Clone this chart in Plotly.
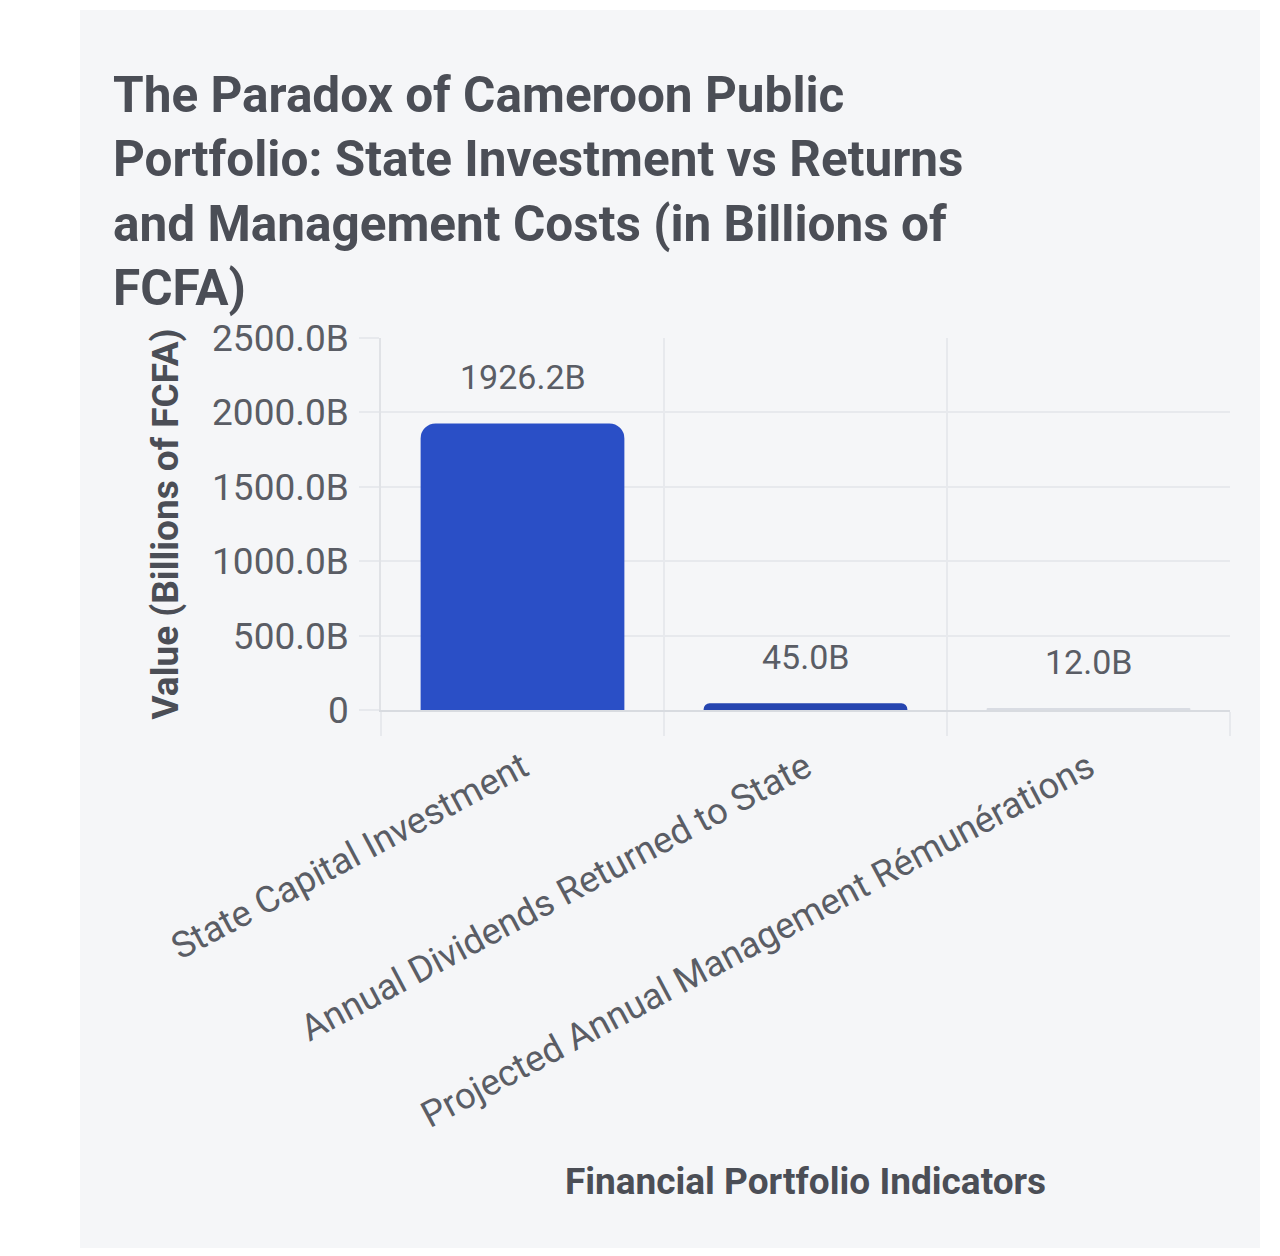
import plotly.graph_objects as go

# Données
categories = ['State Capital Investment',
              'Annual Dividends Returned to State',
              'Projected Annual Management Rémunérations']
values = [1926.2, 45.0, 12.0]
value_labels = ['1926.2B', '45.0B', '12.0B']
y_ticks = [0, 500, 1000, 1500, 2000, 2500]
y_tick_labels = ['0', '500.0B', '1000.0B', '1500.0B', '2000.0B', '2500.0B']

bar_colors = ['#2a4fc6', '#2645b0', '#d9dce3']
panel = '#f5f6f8'
grid = '#e7e9ed'
dark = '#4b4e56'
mid = '#5a5d65'
font = 'Roboto'

fig = go.Figure()
fig.add_trace(go.Bar(
    x=categories, y=values,
    marker=dict(color=bar_colors, line=dict(width=0)),
    hoverinfo='x+y',
))

# étiquettes des valeurs au-dessus des barres
for c, v, t in zip(categories, values, value_labels):
    fig.add_annotation(x=c, y=v, text=t, showarrow=False,
                       yanchor='bottom', yshift=24,
                       font=dict(family=font, size=34, color=mid))

W, H = 1264, 1240
L, R, T, B = 373, 42, 330, 538
pw, ph = W - L - R, H - T - B

# panneau gris de fond
fig.add_shape(type='rect', xref='paper', yref='paper', layer='below',
              x0=(72 - L) / pw, x1=(1252 - L) / pw,
              y0=(H - B - 1240) / ph, y1=(H - B - 2) / ph,
              fillcolor=panel, line=dict(width=0))

fig.update_layout(
    width=W, height=H,
    margin=dict(l=L, r=R, t=T, b=B),
    paper_bgcolor='white', plot_bgcolor=panel,
    bargap=0.28, barcornerradius=15,
    showlegend=False,
    font=dict(family=font, color=mid),
    title=dict(
        text='The Paradox of Cameroon Public<br>Portfolio: State Investment vs Returns<br>'
             'and Management Costs (in Billions of<br>FCFA)',
        x=105 / W, xref='container', xanchor='left',
        y=1 - 104 / H, yref='container', yanchor='top',
        font=dict(family=font, size=49.5, color=dark, weight='bold'),
    ),
    xaxis=dict(
        tickson='boundaries', showgrid=True, gridcolor=grid, gridwidth=1.5,
        ticks='outside', ticklen=24, tickcolor=grid, tickwidth=1.5,
        ticklabelstandoff=20,
        tickangle=-28, tickfont=dict(family=font, size=36.5, color=mid),
        showline=True, linecolor='#d8dbe0', linewidth=2,
        title=dict(text='Financial Portfolio Indicators', standoff=33,
                   font=dict(family=font, size=37, color=dark, weight='bold')),
    ),
    yaxis=dict(
        range=[0, 2500], tickvals=y_ticks, ticktext=y_tick_labels,
        showgrid=True, gridcolor=grid, gridwidth=1.5,
        ticks='outside', ticklen=20, tickcolor=grid, tickwidth=1.5,
        ticklabelstandoff=3,
        tickfont=dict(family=font, size=37, color=mid),
        zeroline=False, showline=True, linecolor='#e0e2e6', linewidth=1.5,
        title=dict(text='Value (Billions of FCFA)', standoff=22,
                   font=dict(family=font, size=37, color=dark, weight='bold')),
    ),
)

fig.write_html('out.html')
